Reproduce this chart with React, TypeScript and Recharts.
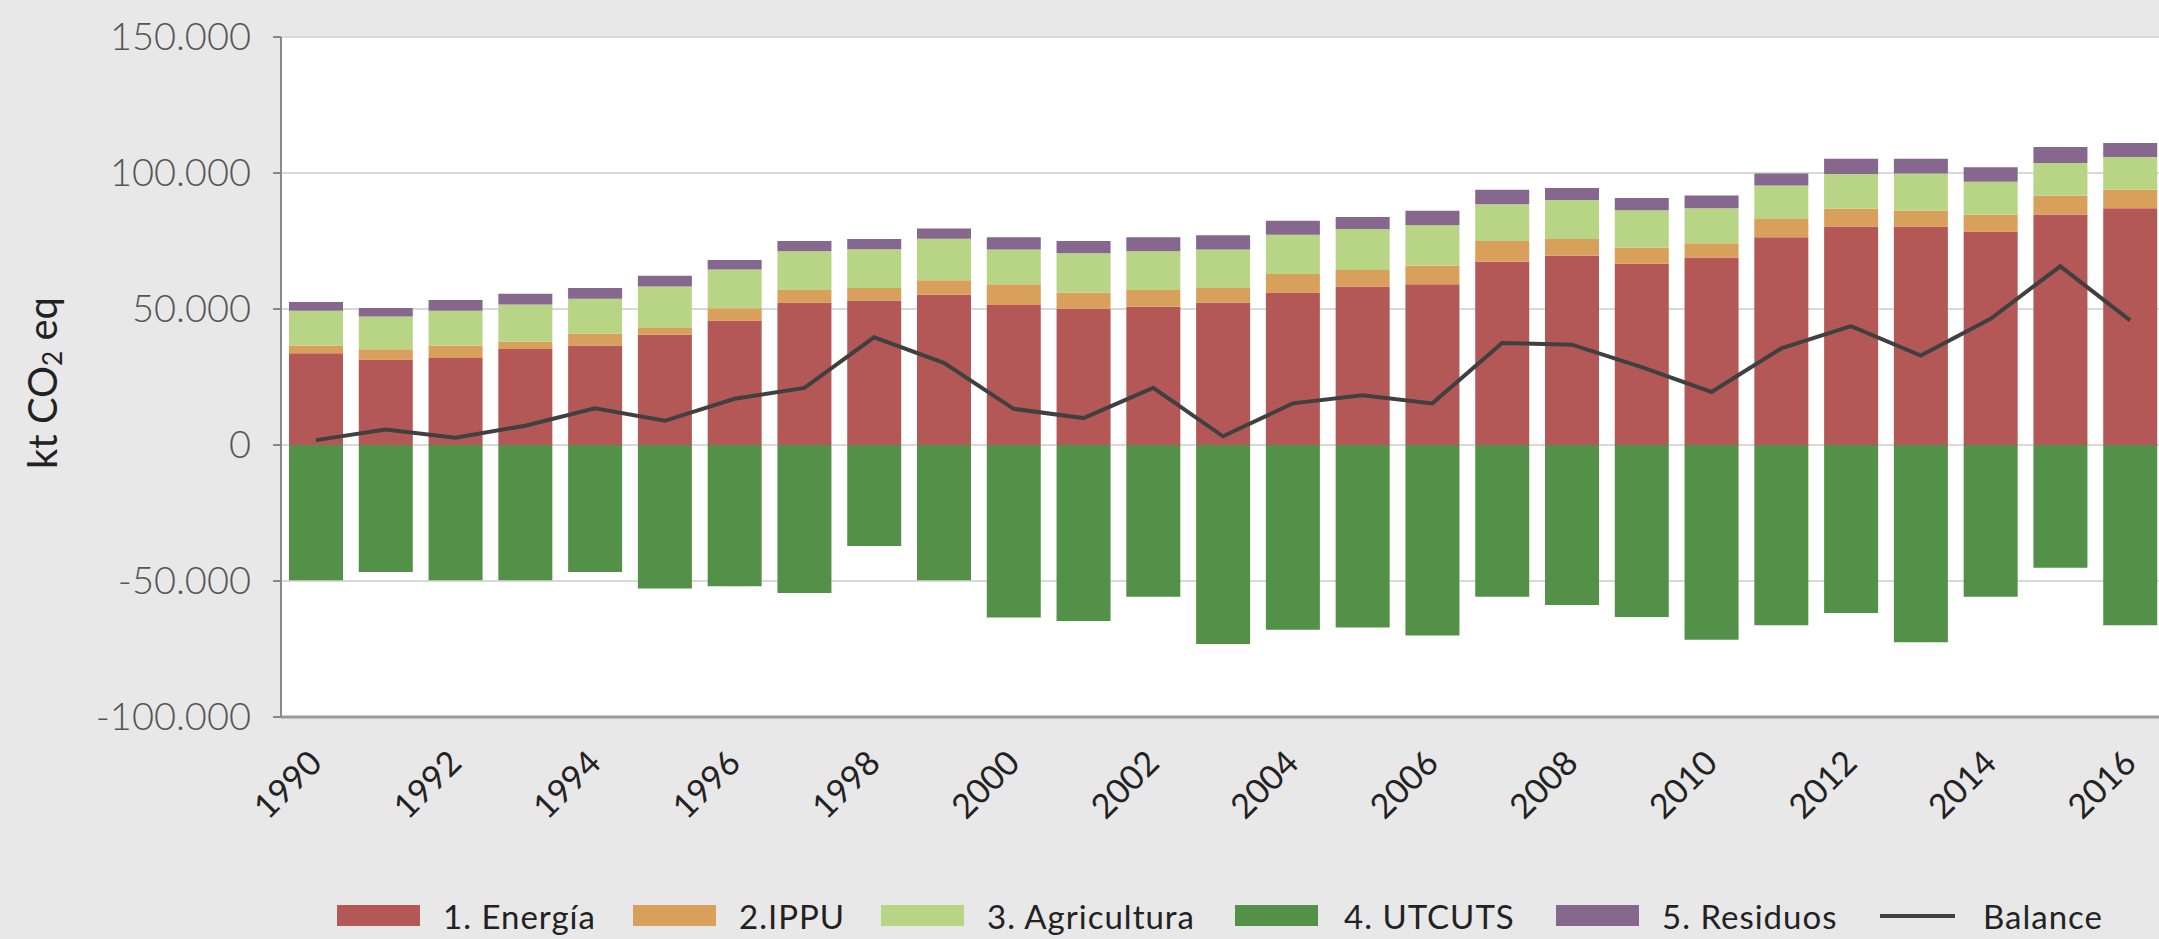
import React from "react";
import {
  ComposedChart,
  Bar,
  Line,
  XAxis,
  YAxis,
  CartesianGrid,
} from "recharts";

// Años del inventario
const years = [
  1990, 1991, 1992, 1993, 1994, 1995, 1996, 1997, 1998, 1999, 2000, 2001,
  2002, 2003, 2004, 2005, 2006, 2007, 2008, 2009, 2010, 2011, 2012, 2013,
  2014, 2015, 2016,
];

// Emisiones por sector (kt CO2 eq)
const energia = [
  33700, 31400, 32000, 35300, 36600, 40500, 45800, 52400, 53100, 55200, 51500,
  50100, 50800, 52400, 56100, 58300, 59100, 67500, 69600, 66600, 68900, 76400,
  80300, 80300, 78500, 84700, 87000,
];
const ippu = [
  2900, 3800, 4600, 2700, 4300, 2500, 4500, 4600, 4600, 5400, 7600, 6000, 6200,
  5300, 6800, 6000, 6800, 7500, 6100, 6000, 5300, 6700, 6600, 5800, 6200, 6900,
  6800,
];
const agricultura = [
  12800, 12000, 12800, 13700, 12900, 15300, 14200, 14200, 14300, 15200, 12800,
  14400, 14200, 14200, 14400, 15100, 14900, 13500, 14400, 13700, 12800, 12300,
  12700, 13700, 12100, 12100, 12100,
];
const utcuts = [
  -49700, -46700, -49700, -49700, -46700, -52800, -51900, -54400, -37100,
  -49700, -63400, -64700, -55800, -73200, -67900, -67100, -70000, -55800,
  -58800, -63200, -71600, -66300, -61800, -72500, -55800, -45100, -66300,
];
const residuos = [
  3200, 3200, 3900, 3900, 3900, 3900, 3500, 3800, 3700, 3800, 4500, 4500, 5200,
  5200, 5100, 4400, 5300, 5300, 4400, 4500, 4700, 4400, 5600, 5400, 5300, 5900,
  5100,
];
const balance = [
  1800, 5700, 2700, 7100, 13500, 8900, 17000, 21000, 39600, 30200, 13300, 9900,
  21000, 3200, 15300, 18300, 15300, 37500, 36900, 28600, 19500, 35500, 43700,
  32900, 46400, 65700, 45800,
];

const yTicks = [-100000, -50000, 0, 50000, 100000, 150000];

const series = [
  { key: "energia", name: "1. Energía", color: "#b35856" },
  { key: "ippu", name: "2.IPPU", color: "#d9a05b" },
  { key: "agricultura", name: "3. Agricultura", color: "#b8d586" },
  { key: "utcuts", name: "4. UTCUTS", color: "#529147" },
  { key: "residuos", name: "5. Residuos", color: "#86678d" },
];

const data = years.map((year, i) => ({
  year,
  energia: energia[i],
  ippu: ippu[i],
  agricultura: agricultura[i],
  utcuts: utcuts[i],
  residuos: residuos[i],
  balance: balance[i],
}));

const FONT = "Lato, 'Noto Sans', sans-serif";

const formatThousands = (v: number) => {
  const s = String(Math.abs(v)).replace(/\B(?=(\d{3})+(?!\d))/g, ".");
  return v < 0 ? `-${s}` : s;
};

const YearTick = (props: any) => {
  const { x, y, payload } = props;
  const ax = x + 8;
  const ay = y + 40;
  return (
    <text
      x={ax}
      y={ay}
      transform={`rotate(-45 ${ax} ${ay})`}
      textAnchor="end"
      fontFamily={FONT}
      fontSize={34}
      fill="#222"
    >
      {payload.value}
    </text>
  );
};

const YLabel = (props: any) => {
  const { viewBox } = props;
  const cx = 42;
  const cy = viewBox.y + viewBox.height / 2 + 6;
  return (
    <text
      x={cx}
      y={cy}
      transform={`rotate(-90 ${cx} ${cy})`}
      textAnchor="middle"
      dominantBaseline="central"
      fontFamily={FONT}
      fontSize={40}
      fill="#222"
    >
      kt CO
      <tspan fontSize={26} dy={10}>
        2
      </tspan>
      <tspan dy={-10}> eq</tspan>
    </text>
  );
};

// posiciones horizontales de la leyenda (muestra, texto)
const legendX = [
  [337, 443],
  [633, 739],
  [881, 987],
  [1235, 1344],
  [1556, 1662],
];

const Legenda = () => (
  <div
    style={{
      position: "absolute",
      left: 0,
      top: 896,
      width: 2159,
      height: 40,
      fontFamily: FONT,
      fontSize: 33,
      letterSpacing: 1,
      color: "#222",
      whiteSpace: "nowrap",
    }}
  >
    {series.map((s, i) => (
      <React.Fragment key={s.key}>
        <span
          style={{
            position: "absolute",
            left: legendX[i][0],
            top: 9,
            width: 83,
            height: 21,
            background: s.color,
          }}
        />
        <span style={{ position: "absolute", left: legendX[i][1], top: 0 }}>
          {s.name}
        </span>
      </React.Fragment>
    ))}
    <span
      style={{
        position: "absolute",
        left: 1880,
        top: 18,
        width: 75,
        height: 4,
        background: "#404040",
      }}
    />
    <span style={{ position: "absolute", left: 1983, top: 0 }}>Balance</span>
  </div>
);

export default function App() {
  return (
    <div
      style={{
        position: "absolute",
        left: 0,
        top: 0,
        width: 2159,
        height: 939,
        overflow: "hidden",
        background: "#e8e8e8",
      }}
    >
      <ComposedChart
        width={2180}
        height={939}
        data={data}
        stackOffset="sign"
        margin={{ top: 37, right: 15, left: 0, bottom: 0 }}
      >
        <CartesianGrid
          vertical={false}
          fill="#ffffff"
          stroke="#d9d9d9"
          strokeWidth={2}
        />
        <XAxis
          dataKey="year"
          interval={1}
          height={222}
          tickLine={false}
          axisLine={{ stroke: "#999", strokeWidth: 3 }}
          tick={<YearTick />}
        />
        <YAxis
          width={281}
          domain={[-100000, 150000]}
          ticks={yTicks}
          tickFormatter={formatThousands}
          tickSize={8}
          tickMargin={22}
          tickLine={{ stroke: "#888", strokeWidth: 2 }}
          axisLine={{ stroke: "#888", strokeWidth: 2 }}
          tick={{ fontFamily: FONT, fontSize: 38, fontWeight: 300, fill: "#555" }}
          label={<YLabel />}
        />
        {series.map((s) => (
          <Bar
            key={s.key}
            dataKey={s.key}
            name={s.name}
            stackId="a"
            fill={s.color}
            barSize={54}
            isAnimationActive={false}
          />
        ))}
        <Line
          type="linear"
          dataKey="balance"
          name="Balance"
          stroke="#404040"
          strokeWidth={4}
          dot={false}
          isAnimationActive={false}
        />
      </ComposedChart>
      <Legenda />
    </div>
  );
}
